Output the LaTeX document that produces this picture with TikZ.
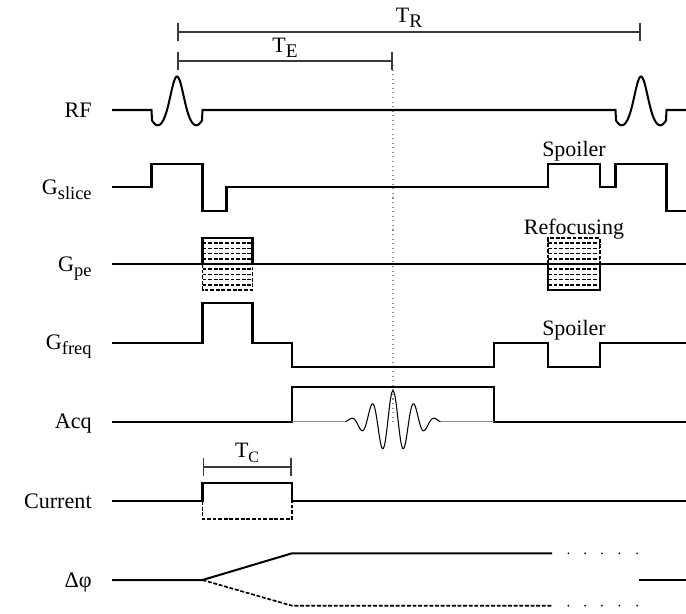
\documentclass[tikz,border=0pt]{standalone}
\usepackage{fontspec}
\setmainfont{Liberation Serif}
\usepackage{tikz}
\usetikzlibrary{arrows.meta}
\definecolor{BarGray}{HTML}{3A3A3A}
\definecolor{EchoGray}{HTML}{8C8C8C}
\newcommand{\lowsub}[2][10.5]{\raisebox{-3pt}{\fontsize{#1}{#1}\selectfont #2}}

\begin{document}
\begin{tikzpicture}[x=0.02cm,y=-0.02cm,
lbl/.style={anchor=base east,inner sep=0pt,font=\fontsize{12.6}{15}\selectfont},
note/.style={anchor=base,inner sep=0pt,font=\fontsize{12.5}{14}\selectfont},
wave/.style={line width=1.15pt},
half/.style={line width=0.95pt,dash pattern=on 2.2pt off 1pt},
thinwave/.style={line width=0.6pt},
span/.style={draw=BarGray,line width=0.95pt,{Bar[width=10.2pt]}-{Bar[width=10.2pt]}},
echo/.style={draw=EchoGray,line width=0.6pt,dotted}
]
\useasboundingbox (0,0) rectangle (686,613);
\node[lbl] (RF) at (92,117) {RF};
\node[lbl] (Gs) at (92,194.3) {G\lowsub{slice}};
\node[lbl] (Gp) at (92,271) {G\lowsub{pe}};
\node[lbl] (Gf) at (92,349.7) {G\lowsub{freq}};
\node[lbl] (Acq) at (92,428.7) {Acq};
\node[lbl] (Cur) at (92,508) {Current};
\node[lbl] (Dphi) at (92,587) {Δφ};
\node[note] (TR) at (409,22) {T\lowsub[11]{R}};
\node[note] (TE) at (285,52) {T\lowsub[11]{E}};
\node[note] (TC) at (247,457) {T\lowsub[9]{C}};
\node[note] (Sp1) at (574,156) {Spoiler};
\node[note] (Ref) at (574,234.3) {Refocusing};
\node[note] (Sp2) at (574,335) {Spoiler};
\draw[echo] (393,65) -- (393,421.7);
\draw[span] (177,31.7) -- (641,31.7);
\draw[span] (177,61) -- (393,61);
\draw[span] (202.5,466.7) -- (292,466.7);
\draw[wave] (112,110) -- (151.5,110) -- plot[domain=-25:25,samples=81,smooth] ({177+\x},{110-cos(9*\x)*(14.5+19*exp(-(\x)*(\x)/121))}) -- (202.5,110)
  -- (615.5,110) -- plot[domain=-25:25,samples=81,smooth] ({641+\x},{110-cos(9*\x)*(14.5+19*exp(-(\x)*(\x)/121))}) -- (666.5,110) -- (686,110);
\draw[wave] (112,187.3) -- (151.5,187.3) |- (202.5,164) |- (226.5,210.7) |- (548,187.3) |- (600,164) |- (615.5,187.3) |- (666.5,164) |- (686,210.7);
\draw[wave] (112,264) -- (686,264);
\draw[wave] (202.5,264) |- (252.5,238) -- (252.5,264);
\draw[half] (202.5,264) |- (252.5,290) -- (252.5,264);
\draw[half] (548,264) |- (600,238) -- (600,264);
\draw[wave] (548,264) |- (600,290) -- (600,264);
\foreach \k in {1,2,3,4,6,7,8,9} {
  \draw[half] (202.5,{238+5.2*\k}) -- (252.5,{238+5.2*\k});
  \draw[half] (548,{238+5.2*\k}) -- (600,{238+5.2*\k});
}
\draw[wave] (112,342.7) -- (202.5,342.7) |- (252.5,303.3) |- (292,342.7) |- (494,366.7) |- (548,342.7) |- (600,366.7) |- (686,342.7);
\draw[wave] (112,421.7) -- (292,421.7) |- (494,387.3) -- (494,421.7) -- (686,421.7);
\draw[thinwave,draw=EchoGray] (292,421.7) -- (345.75,421.7);
\draw[thinwave,draw=EchoGray] (440.25,421.7) -- (494,421.7);
\draw[thinwave] plot[domain=-47.25:47.25,samples=161,smooth] ({393+\x},{421.7-31*cos(17.142857*\x)*exp(-(\x)*(\x)/784)});
\draw[wave] (112,501) -- (202.5,501) |- (292,483) |- (686,501);
\draw[half] (202.5,501) |- (292,519) -- (292,501);
\draw[wave] (112,580) -- (202.5,580) -- (292,553.3) -- (552,553.3);
\draw[half] (202.5,580) -- (292,605.7) -- (552,605.7);
\draw[wave] (639,580) -- (686,580);
\foreach \d in {568.4,585.1,601.9,619.3,637.2} {
  \fill (\d,553.3) circle (0.55pt);
  \fill (\d,605.7) circle (0.55pt);
}
\end{tikzpicture}
\end{document}
